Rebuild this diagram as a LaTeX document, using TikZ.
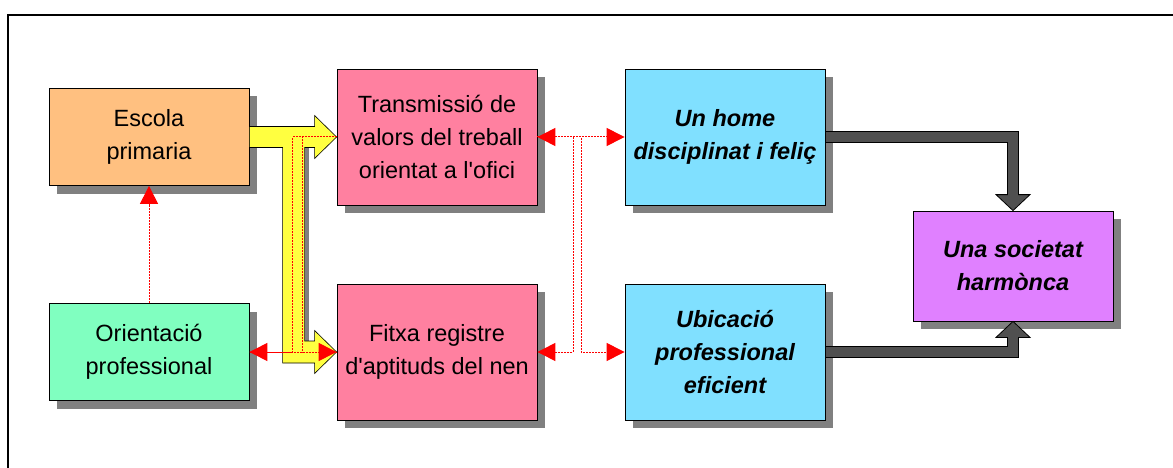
\documentclass[tikz,border=0pt]{standalone}
\usepackage{fontspec}
\newfontfamily\boxfont{Liberation Sans}
\usetikzlibrary{arrows.meta,calc,shadows}
\definecolor{escolac}{RGB}{255,192,128}
\definecolor{orientc}{RGB}{128,255,192}
\definecolor{pinkc}{RGB}{255,128,160}
\definecolor{bluec}{RGB}{128,224,255}
\definecolor{purplec}{RGB}{224,128,255}
\definecolor{yellowc}{RGB}{255,255,64}
\definecolor{shadowc}{RGB}{128,128,128}
\definecolor{darkc}{RGB}{80,80,80}
\tikzset{redtip/.tip={Triangle[length=18pt,width=18pt]}}
\begin{document}
\begin{tikzpicture}[x=1pt,y=-1pt,
  box/.style={draw=black,line width=0.8pt,minimum width=200pt,inner sep=0pt,align=center,
    font=\boxfont\fontsize{23.5pt}{33pt}\selectfont,
    drop shadow={shadow xshift=8pt,shadow yshift=-8pt,fill=shadowc,opacity=1}},
  small box/.style={box,minimum height=97pt},
  big box/.style={box,minimum height=136pt},
  goal box/.style={big box,font=\boxfont\fontsize{23.5pt}{33pt}\selectfont\bfseries\itshape},
  redline/.style={draw=red,dash pattern=on 2pt off 1pt,line width=1pt},
  yelarrow/.style={fill=yellowc,draw=black,line width=0.6pt},
  grayarrow/.style={fill=darkc,draw=black,line width=0.8pt}]
\useasboundingbox (0,0) rectangle (1173,468);
\draw[line width=2pt] (1173,15) -- (8,15) -- (8,468);
% boxes
\node[small box,fill=escolac] (esc) at (149,137) {Escola\\primaria};
\node[small box,fill=orientc] (ori) at (149,352) {Orientació\\professional};
\node[big box,fill=pinkc] (tra) at (437,137) {Transmissió de\\valors del treball\\orientat a l'ofici};
\node[big box,fill=pinkc] (fit) at (437,352) {Fitxa registre\\d'aptituds del nen};
\node[goal box,fill=bluec] (hom) at (725,137) {Un home\\disciplinat i feliç};
\node[goal box,fill=bluec] (ubi) at (725,352) {Ubicació\\professional\\eficient};
\node[goal box,fill=purplec,minimum height=110pt] (soc) at (1013,266) {Una societat\\harmònca};
% yellow arrow
\fill[shadowc] ($(tra.west)+(-32,10.5)$) rectangle ($(fit.west)+(-28,-11)$);
\filldraw[yelarrow] ($(esc.east)+(0,-10.5)$) -- ($(tra.west)+(-22,-10.5)$) -- ($(tra.west)+(-22,-21.5)$)
  -- (tra.west) -- ($(tra.west)+(-22,21.5)$) -- ($(tra.west)+(-22,10.5)$) -- ($(tra.west)+(-32,10.5)$)
  -- ($(fit.west)+(-32,-11)$) -- ($(fit.west)+(-22,-11)$) -- ($(fit.west)+(-22,-21.5)$)
  -- (fit.west) -- ($(fit.west)+(-22,21.5)$) -- ($(fit.west)+(-22,11)$) -- ($(fit.west)+(-54,11)$)
  -- ($(tra.west)+(-54,10.5)$) -- ($(esc.east)+(0,10.5)$) -- cycle;
% dark arrows
\filldraw[grayarrow] ($(hom.east)+(0,-5.5)$) -- ($(soc.north|-hom.east)+(5.5,-5.5)$) -- ($(soc.north)+(5.5,-16)$)
  -- ($(soc.north)+(17,-16)$) -- (soc.north) -- ($(soc.north)+(-17,-16)$) -- ($(soc.north)+(-5.5,-16)$)
  -- ($(soc.north|-hom.east)+(-5.5,5.5)$) -- ($(hom.east)+(0,5.5)$) -- cycle;
\filldraw[grayarrow] ($(ubi.east)+(0,-5.5)$) -- ($(soc.south|-ubi.east)+(-5.5,-5.5)$) -- ($(soc.south)+(-5.5,16)$)
  -- ($(soc.south)+(-17,16)$) -- (soc.south) -- ($(soc.south)+(17,16)$) -- ($(soc.south)+(5.5,16)$)
  -- ($(soc.south|-ubi.east)+(5.5,5.5)$) -- ($(ubi.east)+(0,5.5)$) -- cycle;
% red links
\draw[redline,-redtip] (ori) -- (esc);
\draw[redline,redtip-redtip] (ori) -- (fit);
\draw[redline] (tra.west) -- ++(-44,0) |- (ori.east);
\draw[redline] (tra.west) -- ++(-34,0) |- (fit.west);
\draw[redline,redtip-redtip] (tra) -- (hom);
\draw[redline,-redtip] (tra.east) -- ++(36,0) |- (fit.east);
\draw[redline,-redtip] (tra.east) -- ++(44,0) |- (ubi.west);
\end{tikzpicture}
\end{document}
